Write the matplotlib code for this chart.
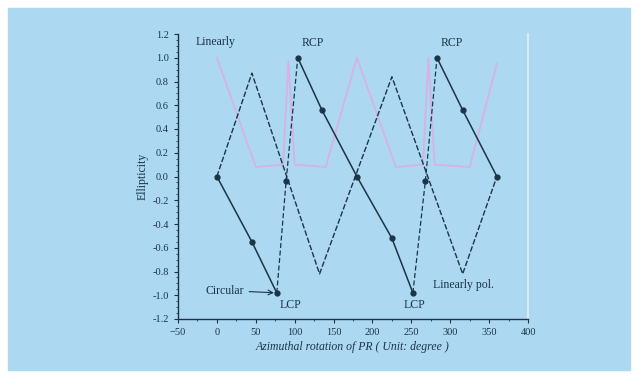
import matplotlib
matplotlib.use("Agg")
import matplotlib.pyplot as plt
from matplotlib.patches import Rectangle
from matplotlib.ticker import MultipleLocator

# dark series with markers (LCP -> RCP jump)
angle_a = [0, 45, 77, 89, 104, 135, 180, 225, 252, 268, 283, 316, 360]
ellip_a = [0.0, -0.55, -0.98, -0.04, 1.0, 0.56, 0.0, -0.52, -0.98, -0.04, 1.0, 0.56, 0.0]
jump_idx = [(2, 4), (8, 10)]

# dashed dark triangle
angle_b = [0, 45, 132, 225, 316, 360]
ellip_b = [0.0, 0.87, -0.82, 0.84, -0.82, 0.0]

# light pink series
angle_c = [0, 50, 85, 92, 100, 140, 180, 230, 265, 272, 280, 325, 360]
ellip_c = [1.0, 0.08, 0.1, 0.97, 0.1, 0.08, 1.0, 0.08, 0.1, 1.0, 0.1, 0.08, 0.95]

xticks = [-50, 0, 50, 100, 150, 200, 250, 300, 350, 400]
yticks = [-1.2, -1.0, -0.8, -0.6, -0.4, -0.2, 0.0, 0.2, 0.4, 0.6, 0.8, 1.0, 1.2]

bg = "#acd9f1"
dark = "#1b3448"
pink = "#d4b4e4"

plt.rcParams["font.family"] = ["Liberation Serif", "DejaVu Serif"]

fig = plt.figure(figsize=(6.37, 3.78), dpi=100)
fig.patch.set_facecolor("white")
fig.patches.append(Rectangle((8 / 637, 8 / 378), 622 / 637, 362 / 378,
                             transform=fig.transFigure, color=bg, zorder=-10))

ax = fig.add_axes([178 / 637, 1 - 319 / 378, 350 / 637, 285 / 378])
ax.set_facecolor(bg)

ax.plot(angle_c, ellip_c, color=pink, lw=1.4, zorder=2)
ax.plot(angle_b, ellip_b, color=dark, lw=1.0, ls=(0, (4, 1.5)), zorder=3)

# solid runs of series A, dashed jumps
starts = [0] + [j[1] for j in jump_idx]
ends = [j[0] for j in jump_idx] + [len(angle_a) - 1]
for s, e in zip(starts, ends):
    ax.plot(angle_a[s:e + 1], ellip_a[s:e + 1], color=dark, lw=1.1, zorder=4)
for s, e in jump_idx:
    ax.plot(angle_a[s:e + 1], ellip_a[s:e + 1], color=dark, lw=0.9, ls=(0, (4, 2)), zorder=4)
ax.plot(angle_a, ellip_a, ls="none", marker="o", ms=3.5, color=dark, zorder=5)

ax.set_xlim(-50, 400)
ax.set_ylim(-1.2, 1.2)
ax.set_xticks(xticks)
ax.set_yticks(yticks)
ax.set_yticklabels([f"{v:.1f}" for v in yticks])
ax.xaxis.set_minor_locator(MultipleLocator(25))
ax.yaxis.set_minor_locator(MultipleLocator(0.05))
ax.tick_params(axis="both", labelsize=7.5, colors=dark, length=3, width=0.8)
ax.tick_params(which="minor", length=1.5, width=0.6, colors=dark)

ax.spines["top"].set_visible(False)
ax.spines["right"].set_color("#d8ecf6")
ax.spines["right"].set_linewidth(1.5)
for side in ["left", "bottom"]:
    ax.spines[side].set_color(dark)
    ax.spines[side].set_linewidth(1.0)

ax.set_xlabel("Azimuthal rotation of PR ( Unit: degree )", fontsize=8.5, style="italic",
              color=dark, labelpad=3)
ax.set_ylabel("Ellipticity", fontsize=8.5, color=dark, labelpad=3)

ax.text(-28, 1.13, "Linearly", fontsize=8.5, color=dark, va="center")
ax.text(109, 1.12, "RCP", fontsize=8.5, color=dark, va="center")
ax.text(288, 1.12, "RCP", fontsize=8.5, color=dark, va="center")
ax.text(81, -1.08, "LCP", fontsize=8.5, color=dark, va="center")
ax.text(240, -1.08, "LCP", fontsize=8.5, color=dark, va="center")
ax.text(278, -0.91, "Linearly pol.", fontsize=8.5, color=dark, va="center")
ax.annotate("Circular", xy=(77, -0.98), xytext=(-15, -0.96), fontsize=8.5, color=dark,
            va="center", arrowprops=dict(arrowstyle="->", color=dark, lw=0.8))

fig.savefig("out.png", dpi=100, facecolor=fig.get_facecolor())
